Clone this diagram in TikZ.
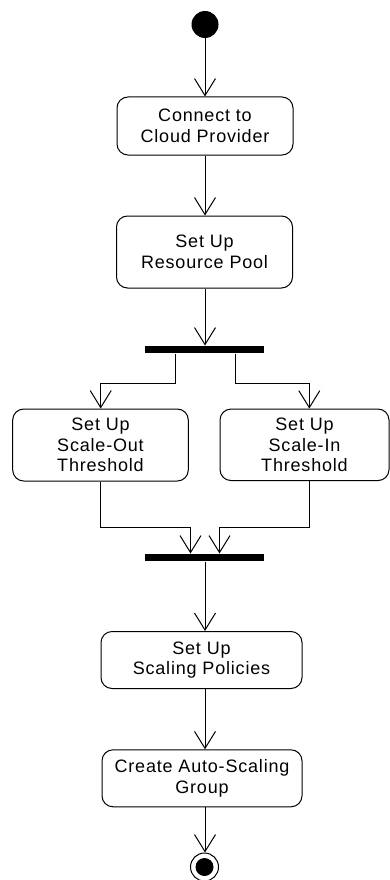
\documentclass[tikz,border=0pt]{standalone}
\usepackage{fontspec}
\setmainfont{Liberation Sans}[LetterSpace=4.5]
\usetikzlibrary{arrows.meta}
\begin{document}
\begin{tikzpicture}[x=1pt,y=-1pt,
  line width=1pt,
  act/.style={draw, rounded corners=11pt, align=center, inner sep=0pt,
    font=\fontsize{18}{20.5}\selectfont},
  bar/.style={fill=black, inner sep=0pt, minimum width=119pt, minimum height=7pt},
  arr/.style={-{Straight Barb[length=17pt,width=21pt,line width=1pt]}}]
\useasboundingbox (0,0) rectangle (390,880);
\node[circle, fill=black, minimum size=27pt, inner sep=0pt] (start) at (205,24.5) {};
\node[act, minimum width=176pt, minimum height=58pt] (b1) at (205,126) {Connect to\\Cloud Provider};
\node[act, minimum width=176pt, minimum height=72pt] (b2) at (204.5,252) {Set Up\\Resource Pool};
\node[bar] (f1) at (204.5,349.5) {};
\node[act, minimum width=175.6pt, minimum height=72pt] (l) at (100.5,445) {Set Up\\Scale-Out\\Threshold};
\node[act, minimum width=169pt, minimum height=71.5pt] (r) at (304.5,444.8) {Set Up\\Scale-In\\Threshold};
\node[bar] (f2) at (204.5,557.5) {};
\node[act, minimum width=201pt, minimum height=57pt] (b5) at (201.5,660) {Set Up\\Scaling Policies};
\node[act, minimum width=200pt, minimum height=57pt] (b6) at (202,778.3) {Create Auto-Scaling\\Group};
\node[circle, draw, minimum size=28pt, inner sep=0pt] (end) at (204.5,867) {};
\node[circle, fill=black, minimum size=18pt, inner sep=0pt] (endin) at (end.center) {};
\draw[arr] (start) -- (b1.north -| start);
\draw[arr] (b1.south -| start) -- (b2.north -| start);
\draw[arr] (b2.south -| start) -- (f1.north -| start);
\draw[arr] ([xshift=-29pt]f1.south) -- ++(0,30) -| ([xshift=0.2pt]l.north);
\draw[arr] ([xshift=30.5pt]f1.south) -- ++(0,30) -| ([xshift=4.8pt]r.north);
\draw[arr] (l.south) -- ++(0,46.3) -| ([xshift=-14pt]f2.north);
\draw[arr] ([xshift=4.8pt]r.south) -- ++(0,46.8) -| ([xshift=15pt]f2.north);
\draw[arr] (f2.south -| start) -- (b5.north -| start);
\draw[arr] (b5.south -| start) -- (b6.north -| start);
\draw[arr] (b6.south -| start) -- (end.north -| start);
\end{tikzpicture}
\end{document}
